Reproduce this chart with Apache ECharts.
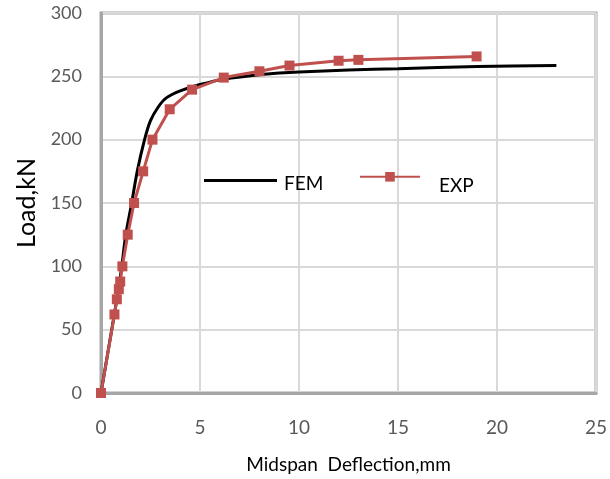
<!DOCTYPE html>
<html>
<head>
<meta charset="utf-8">
<script src="https://cdn.jsdelivr.net/npm/echarts@6/dist/echarts.min.js"></script>
<style>
html,body{margin:0;padding:0;background:#fff;}
#chart{width:610px;height:479px;}
</style>
</head>
<body>
<div id="chart"></div>
<script>
// FEM curve (Midspan deflection mm, Load kN)
const femX = [0, 0.4, 0.8, 1.05, 1.25, 1.55, 1.83, 2.2, 2.5, 2.9, 3.3, 4.0, 5.0, 6.3, 8.0, 9.0, 10.0, 12.5, 15.0, 19.0, 23.0];
const femY = [0, 37, 74, 100, 125, 150, 175, 200, 215, 226, 233, 238.5, 243.5, 248, 251.3, 252.6, 253.5, 255, 256, 257.8, 258.6];
// Experimental points
const expX = [0, 0.68, 0.8, 0.9, 0.97, 1.08, 1.35, 1.67, 2.13, 2.6, 3.47, 4.6, 6.2, 8.0, 9.52, 12.0, 13.0, 18.97];
const expY = [0, 62, 74, 82, 88, 100, 125, 150, 175, 200, 224, 239.5, 249, 254, 258.5, 262.3, 263, 265.7];
// Axis ticks
const xTicks = [0, 5, 10, 15, 20, 25];
const yTicks = [0, 50, 100, 150, 200, 250, 300];
const seriesNames = ['FEM', 'EXP'];

const femData = femX.map((x, i) => [x, femY[i]]);
const expData = expX.map((x, i) => [x, expY[i]]);

const font = 'Lato, "Noto Sans", sans-serif';
const chart = echarts.init(document.getElementById('chart'), null, {renderer: 'canvas'});
chart.setOption({
  animation: false,
  backgroundColor: '#fff',
  textStyle: {fontFamily: font},
  grid: {left: 101, right: 9, top: 13, bottom: 86, show: true, borderColor: '#a6a6a6', borderWidth: 3},
  legend: [
    {data: [{name: seriesNames[0], icon: 'rect'}], left: 199, top: 169, itemWidth: 73, itemHeight: 3, itemGap: 0,
     formatter: '{t|{name}}',
     textStyle: {fontSize: 19, color: '#000', fontFamily: font,
       rich: {t: {fontSize: 19, color: '#000', fontFamily: font, padding: [6, 0, 0, 2]}}}},
    {data: [seriesNames[1]], left: 354, top: 167, itemWidth: 60, itemHeight: 12,
     formatter: '{t|{name}}',
     textStyle: {fontSize: 19, color: '#000', fontFamily: font,
       rich: {t: {fontSize: 19, color: '#000', fontFamily: font, padding: [18, 0, 0, 14]}}}}
  ],
  xAxis: {
    type: 'value', min: xTicks[0], max: xTicks[xTicks.length - 1], interval: 5,
    name: 'Midspan  Deflection,mm', nameLocation: 'middle', nameGap: 62,
    nameTextStyle: {fontSize: 19, color: '#000', fontFamily: font},
    axisLine: {show: true, onZero: false, lineStyle: {color: '#a6a6a6', width: 3}},
    axisTick: {show: false},
    axisLabel: {fontSize: 19, color: '#595959', margin: 25, fontFamily: font},
    splitLine: {show: true, lineStyle: {color: '#d9d9d9', width: 2}}
  },
  yAxis: {
    type: 'value', min: yTicks[0], max: yTicks[yTicks.length - 1], interval: 50,
    name: 'Load,kN', nameLocation: 'middle', nameGap: 62,
    nameTextStyle: {fontSize: 25, color: '#000', fontFamily: font},
    axisLine: {show: true, lineStyle: {color: '#a6a6a6', width: 3}},
    axisTick: {show: false},
    axisLabel: {fontSize: 18, color: '#595959', margin: 19, fontFamily: font},
    splitLine: {show: true, lineStyle: {color: '#d9d9d9', width: 2}}
  },
  series: [
    {name: seriesNames[0], type: 'line', data: femData, smooth: 0.3,
     showSymbol: false, symbol: 'none', lineStyle: {color: '#000', width: 3}, itemStyle: {color: '#000'}, z: 2},
    {name: seriesNames[1], type: 'line', data: expData, symbol: 'rect', symbolSize: 10,
     lineStyle: {color: '#C0504D', width: 3}, itemStyle: {color: '#C0504D'}, z: 3}
  ]
});
</script>
</body>
</html>
